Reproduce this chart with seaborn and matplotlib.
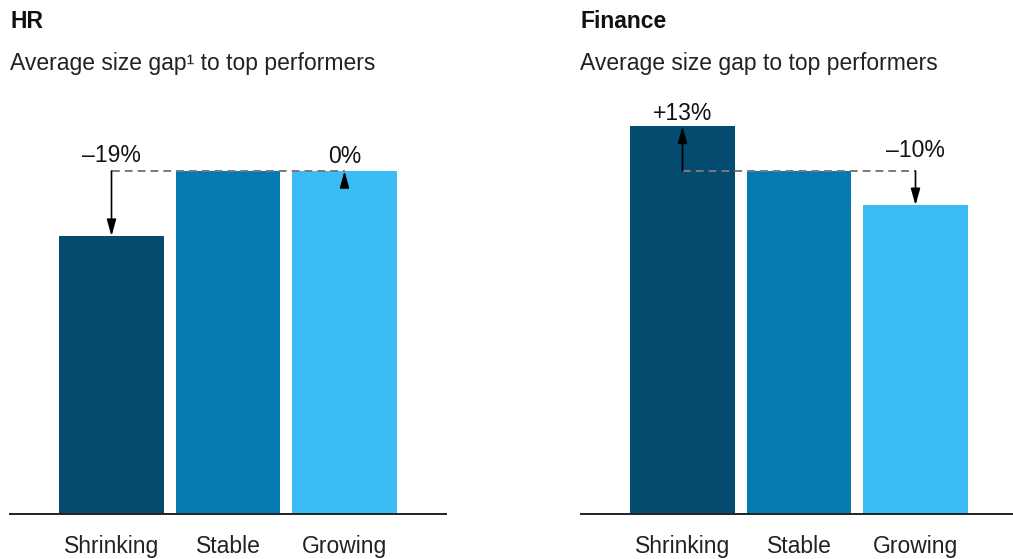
import matplotlib
matplotlib.use("Agg")
import matplotlib.pyplot as plt
import seaborn as sns
import pandas as pd

# Size gaps (percent) of each company group versus the stable group
categories = ["Shrinking", "Stable", "Growing"]
panel_titles = ["HR", "Finance"]
panel_subtitles = ["Average size gap\u00b9 to top performers",
                   "Average size gap to top performers"]
hr_gap_pct = [-19, 0, 0]
finance_gap_pct = [13, 0, -10]
# which bars carry a gap callout
hr_callout = [True, False, True]
finance_callout = [True, False, True]

bar_colors = ["#034B6F", "#0679B2", "#3BBCF4"]
label_offsets_pt = {("HR", "Shrinking"): 6.5, ("HR", "Growing"): 5.8,
                    ("Finance", "Shrinking"): 4.3, ("Finance", "Growing"): 10}

sns.set_theme(style="white")
plt.rcParams["font.family"] = ["Liberation Sans", "DejaVu Sans"]

W, H = 1013, 559
fig = plt.figure(figsize=(W / 100, H / 100), dpi=100)

base_px = 514      # baseline, pixels from top
unit_px = 3.43     # pixels per index point
ymax = 130
spacing_px = 116.5
xlo, xhi = -0.87, 2.87


def fmt_gap(g):
    if g > 0:
        return f"+{g}%"
    if g < 0:
        return f"\u2013{abs(g)}%"
    return "0%"


panels = [
    ("HR", hr_gap_pct, hr_callout, 111.5, 10),
    ("Finance", finance_gap_pct, finance_callout, 682.5, 580),
]

for (name, gaps, callout, first_center_px, text_x), sub in zip(panels, panel_subtitles):
    df = pd.DataFrame({"group": categories,
                       "index": [100 + g for g in gaps]})
    left_px = first_center_px + xlo * spacing_px
    width_px = (xhi - xlo) * spacing_px
    bottom = (H - base_px) / H
    height = ymax * unit_px / H
    ax = fig.add_axes([left_px / W, bottom, width_px / W, height])

    sns.barplot(data=df, x="group", y="index", hue="group", palette=bar_colors,
                width=0.9, legend=False, saturation=1, ax=ax, zorder=2,
                linewidth=0)
    ax.set_xlim(xlo, xhi)
    ax.set_ylim(0, ymax)
    ax.set_xlabel("")
    ax.set_ylabel("")
    ax.set_yticks([])
    for s in ["top", "left", "right"]:
        ax.spines[s].set_visible(False)
    ax.spines["bottom"].set_color("#222222")
    ax.spines["bottom"].set_linewidth(1.4)
    ax.spines["bottom"].set_zorder(4)
    ax.tick_params(axis="x", length=0, pad=15, labelsize=16.5, labelcolor="#222222")

    ref = 100
    # dashed reference line at the stable level
    ax.plot([0, 2], [ref, ref], color="#7a7a7a", lw=1.4,
            linestyle=(0, (4, 2.6)), zorder=3)

    for i, (cat, g, show) in enumerate(zip(categories, gaps, callout)):
        if not show:
            continue
        val = 100 + g
        if g == 0:
            start = ref - 4.6
            end = ref
        else:
            start = ref
            end = val
        ax.annotate("", xy=(i, end), xytext=(i, start),
                    arrowprops=dict(arrowstyle="-|>,head_length=1.0,head_width=0.28",
                                    mutation_scale=10, color="black", lw=1.2,
                                    shrinkA=0, shrinkB=0),
                    zorder=5)
        top = max(ref, val)
        ax.annotate(fmt_gap(g), xy=(i, top),
                    xytext=(0, label_offsets_pt[(name, cat)]),
                    textcoords="offset points", ha="center", va="baseline",
                    fontsize=16.5, color="#111111", zorder=6)

    fig.text(text_x / W, 1 - 28 / H, name, fontsize=16.5, fontweight="bold",
             color="#111111", ha="left", va="baseline")
    fig.text(text_x / W, 1 - 70 / H, sub, fontsize=16.5, color="#222222",
             ha="left", va="baseline")

fig.savefig("out.png", dpi=100)
